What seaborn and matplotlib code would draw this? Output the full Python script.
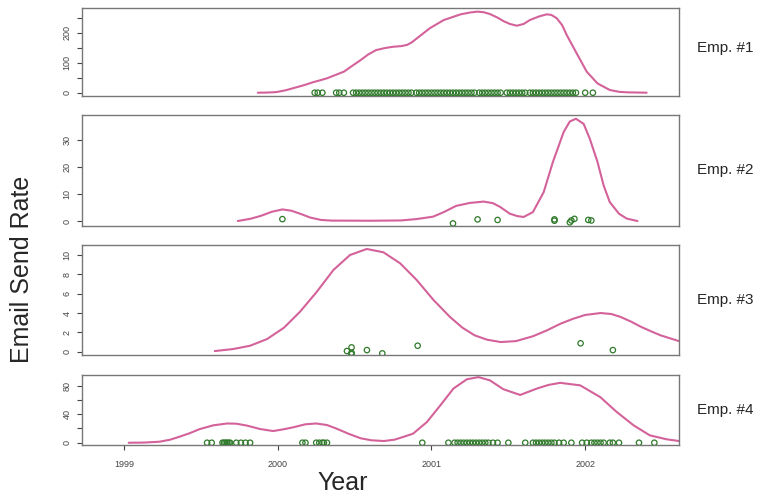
import numpy as np
import pandas as pd
import seaborn as sns
import matplotlib.pyplot as plt

# ---- smoothed send rate curves ----
emp1_x = [1999.87, 1999.94, 1999.99, 2000.05, 2000.10, 2000.17, 2000.23, 2000.28, 2000.32,
          2000.37, 2000.43, 2000.48, 2000.54, 2000.59, 2000.64, 2000.70, 2000.75, 2000.80,
          2000.84, 2000.87, 2000.905, 2000.95, 2000.99, 2001.08, 2001.19, 2001.25, 2001.30,
          2001.34, 2001.38, 2001.43, 2001.47, 2001.51, 2001.555, 2001.60, 2001.64, 2001.70,
          2001.75, 2001.78, 2001.815, 2001.85, 2001.88, 2001.95, 2002.01, 2002.08, 2002.16,
          2002.22, 2002.27, 2002.40]
emp1_y = [0, 0.7, 2, 8, 15, 25, 35, 42, 48, 58, 70, 88, 109, 128, 142, 149, 153, 155, 159,
          167, 181, 199, 215, 242, 261, 267, 270, 268, 262, 250, 238, 229, 223, 229, 242, 254,
          261, 259, 248, 225, 192, 126, 70, 31, 9, 3, 1.3, 0]

emp2_x = [1999.74, 1999.82, 1999.89, 1999.96, 2000.03, 2000.09, 2000.15, 2000.21, 2000.28,
          2000.35, 2000.60, 2000.80, 2000.90, 2001.01, 2001.08, 2001.16, 2001.25, 2001.34,
          2001.40, 2001.447, 2001.51, 2001.56, 2001.60, 2001.66, 2001.73, 2001.79, 2001.86,
          2001.90, 2001.94, 2001.99, 2002.03, 2002.08, 2002.12, 2002.16, 2002.22, 2002.27,
          2002.34]
emp2_y = [0.0, 0.8, 1.9, 3.4, 4.3, 3.8, 2.6, 1.3, 0.4, 0.15, 0.1, 0.2, 0.7, 1.6, 3.3, 5.6,
          6.7, 7.2, 6.6, 5.2, 2.7, 1.8, 1.5, 3.3, 10.7, 21.9, 33.0, 36.9, 37.9, 36.0, 30.5,
          21.9, 13.2, 7.0, 2.7, 0.9, 0.0]

emp3_x = [1999.59, 1999.71, 1999.82, 1999.93, 2000.04, 2000.145, 2000.254, 2000.362, 2000.47,
          2000.579, 2000.687, 2000.796, 2000.904, 2001.013, 2001.12, 2001.20, 2001.28,
          2001.36, 2001.45, 2001.55, 2001.66, 2001.75, 2001.84, 2001.92, 2002.00, 2002.10,
          2002.17, 2002.23, 2002.30, 2002.36, 2002.43, 2002.49, 2002.55, 2002.61]
emp3_y = [0.07, 0.28, 0.62, 1.31, 2.48, 4.14, 6.2, 8.45, 10.0, 10.62, 10.28, 9.14, 7.41, 5.35,
          3.6, 2.5, 1.7, 1.25, 1.0, 1.1, 1.6, 2.2, 2.9, 3.4, 3.8, 4.0, 3.9, 3.6, 3.1, 2.6,
          2.1, 1.7, 1.4, 1.1]

emp4_x = [1999.03, 1999.126, 1999.23, 1999.30, 1999.36, 1999.43, 1999.49, 1999.58, 1999.67,
          1999.73, 1999.80, 1999.885, 1999.97, 2000.037, 2000.10, 2000.178, 2000.25, 2000.32,
          2000.38, 2000.46, 2000.54, 2000.61, 2000.69, 2000.76, 2000.82, 2000.88, 2000.97,
          2001.056, 2001.143, 2001.23, 2001.306, 2001.38, 2001.468, 2001.577, 2001.686,
          2001.76, 2001.837, 2001.967, 2002.098, 2002.206, 2002.315, 2002.42, 2002.53, 2002.61]
emp4_y = [0, 0.2, 1.4, 4.3, 8.4, 13.6, 19, 24.4, 27, 26.7, 24, 19.2, 16.4, 18.8, 21.6, 25.8,
          27, 24.8, 20, 12.6, 6.2, 3.4, 2.4, 4.3, 8.4, 12.7, 29, 52, 76, 89, 92, 87.5, 75,
          67, 76, 81, 84, 80.5, 64, 43, 24.4, 10.4, 4.8, 2.4]

# ---- individual emails (dates in years) ----
emp1_pts = [2000.24, 2000.26, 2000.29, 2000.38, 2000.40, 2000.43, 2000.49, 2000.51, 2000.53,
            2000.55, 2000.57, 2000.59, 2000.61, 2000.63, 2000.65, 2000.67, 2000.69, 2000.71,
            2000.73, 2000.75, 2000.77, 2000.79, 2000.81, 2000.83, 2000.85, 2000.87, 2000.90,
            2000.92, 2000.94, 2000.96, 2000.98, 2001.00, 2001.02, 2001.04, 2001.06, 2001.08,
            2001.10, 2001.12, 2001.14, 2001.16, 2001.18, 2001.20, 2001.22, 2001.24, 2001.26,
            2001.28, 2001.31, 2001.33, 2001.35, 2001.37, 2001.39, 2001.41, 2001.43, 2001.45,
            2001.49, 2001.51, 2001.53, 2001.55, 2001.57, 2001.59, 2001.61, 2001.64, 2001.66,
            2001.68, 2001.70, 2001.72, 2001.74, 2001.76, 2001.78, 2001.80, 2001.82, 2001.84,
            2001.86, 2001.88, 2001.90, 2001.92, 2001.94, 2002.00, 2002.05]
emp2_pts = [2000.03, 2001.14, 2001.30, 2001.43, 2001.80, 2001.80, 2001.90, 2001.91, 2001.93,
            2002.02, 2002.04]
emp2_pty = [0.7, -0.9, 0.6, 0.4, 0.6, 0.1, -0.5, 0.2, 0.8, 0.4, 0.2]
emp3_pts = [2000.45, 2000.48, 2000.48, 2000.48, 2000.58, 2000.68, 2000.91, 2001.97, 2002.18]
emp3_pty = [0.07, 0.45, -0.1, -0.25, 0.17, -0.17, 0.62, 0.87, 0.17]
emp4_pts = [1999.54, 1999.57, 1999.64, 1999.65, 1999.66, 1999.67, 1999.68, 1999.69, 1999.73,
            1999.76, 1999.79, 1999.82, 2000.16, 2000.18, 2000.25, 2000.27, 2000.29, 2000.30,
            2000.32, 2000.94, 2001.11, 2001.15, 2001.17, 2001.19, 2001.21, 2001.23, 2001.25,
            2001.27, 2001.29, 2001.31, 2001.33, 2001.35, 2001.37, 2001.40, 2001.43, 2001.50,
            2001.61, 2001.66, 2001.68, 2001.70, 2001.72, 2001.74, 2001.76, 2001.78, 2001.80,
            2001.83, 2001.86, 2001.91, 2001.98, 2002.01, 2002.04, 2002.06, 2002.08, 2002.10,
            2002.12, 2002.16, 2002.18, 2002.22, 2002.35, 2002.45]

labels = ["Emp. #1", "Emp. #2", "Emp. #3", "Emp. #4"]
years = [1999, 2000, 2001, 2002]

# ---- panel layout in figure fractions: (bottom, height, ylim, ticks, labelled ticks) ----
panels = [
    (0.8072, 0.1767, (-11, 282), [0, 50, 100, 150, 200, 250], [0, 100, 200]),
    (0.5462, 0.2229, (-1.85, 39.3), [0, 10, 20, 30], [0, 10, 20, 30]),
    (0.2871, 0.2209, (-0.34, 11.03), [0, 2, 4, 6, 8, 10], [0, 2, 4, 6, 8, 10]),
    (0.1064, 0.1406, (-3.2, 95), [0, 20, 40, 60, 80], [0, 40, 80]),
]
curves = [(emp1_x, emp1_y), (emp2_x, emp2_y), (emp3_x, emp3_y), (emp4_x, emp4_y)]
points = [(emp1_pts, [0] * len(emp1_pts)), (emp2_pts, emp2_pty),
          (emp3_pts, emp3_pty), (emp4_pts, [0] * len(emp4_pts))]

LINE = "#d4629a"
DOT = "#2f7a2a"

sns.set_style("white")
plt.rcParams['font.family'] = ['Liberation Sans', 'DejaVu Sans']

fig = plt.figure(figsize=(7.77, 4.98), dpi=100)

for i, (bottom, height, ylim, ticks, shown) in enumerate(panels):
    ax = fig.add_axes([0.1055, bottom, 0.7683, height])
    cx, cy = curves[i]
    sns.lineplot(x=cx, y=cy, ax=ax, color=LINE, lw=1.5, sort=False, estimator=None)
    px, py = points[i]
    sns.scatterplot(x=px, y=py, ax=ax, marker='o', s=15, facecolors='none',
                    edgecolor=DOT, linewidth=0.9, zorder=3)
    ax.set_xlim(1998.726, 2002.61)
    ax.set_ylim(*ylim)
    ax.set_yticks(ticks)
    ax.set_yticklabels([str(t) if t in shown else "" for t in ticks],
                       rotation=90, va='center', fontsize=6.5, color='#444444')
    ax.tick_params(axis='y', direction='out', length=3.5, width=0.8, color='#444444',
                   pad=4, left=True)
    for sp in ax.spines.values():
        sp.set_color('#777777')
        sp.set_linewidth(1.0)
    if i < 3:
        ax.set_xticks([])
    else:
        ax.set_xticks(years)
        ax.set_xticklabels([str(y) for y in years], fontsize=6.5, color='#444444')
        ax.tick_params(axis='x', direction='out', length=3.5, width=0.8, color='#444444',
                       pad=7, bottom=True)
    ax.set_xlabel("")
    ax.set_ylabel("")
    ax.text(1.03, 0.5 if i != 0 else 0.55, labels[i], transform=ax.transAxes,
            fontsize=11, va='center', ha='left')

fig.text(0.028, 0.46, "Email Send Rate", rotation=90, fontsize=18, va='center', ha='center')
fig.text(0.441, 0.03, "Year", fontsize=18, va='center', ha='center')

fig.savefig("out.png", dpi=100)
